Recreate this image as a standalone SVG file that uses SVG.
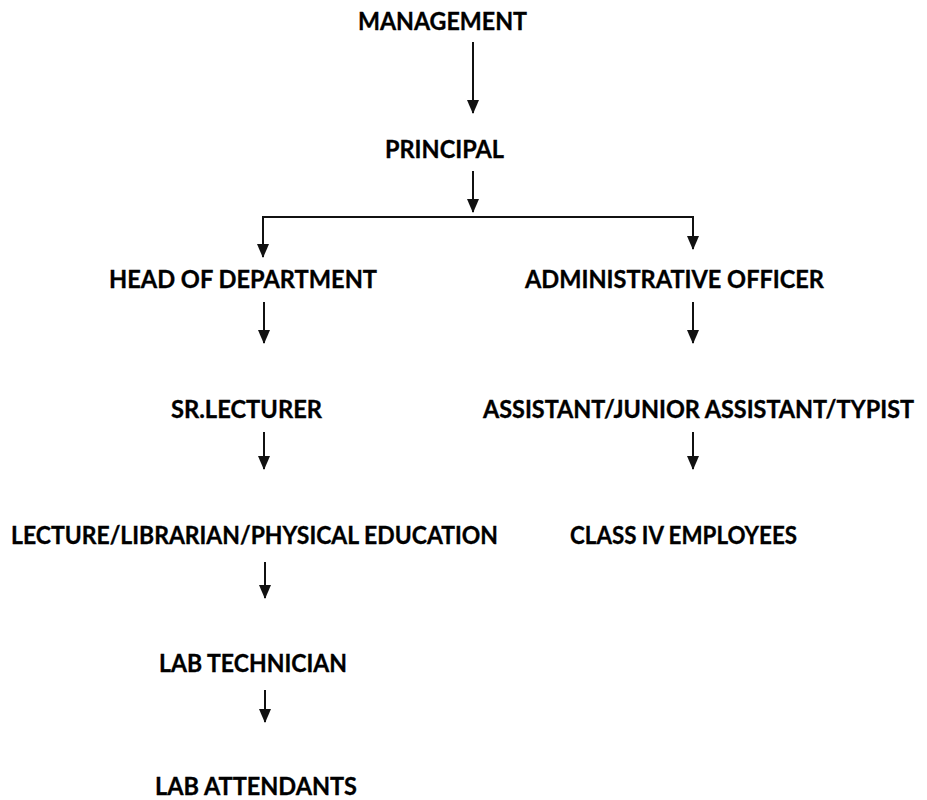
<svg xmlns="http://www.w3.org/2000/svg" width="927" height="800" viewBox="0 0 927 800">
<style>
  text { font-family: "Lato", "Carlito", "Open Sans", sans-serif; font-weight: bold; font-size: 25.5px; fill: #000; stroke: #000; stroke-width: 0.35px; }
  .c { stroke: #111; stroke-width: 2; fill: none; }
</style>
<defs>
  <marker id="ah" markerUnits="userSpaceOnUse" markerWidth="14" markerHeight="14" viewBox="0 0 14 12" refX="13" refY="6" orient="auto">
    <path d="M0,0 L14,6 L0,12 z" fill="#111"/>
  </marker>
</defs>
<rect width="927" height="800" fill="#fff"/>
<g id="connectors">
  <path class="c" d="M473,42 V113" marker-end="url(#ah)"/>
  <path class="c" d="M473,171 V212" marker-end="url(#ah)"/>
  <path class="c" d="M263,257 V217 H693 V249"/>
  <path class="c" d="M263,250 V257" marker-end="url(#ah)"/>
  <path class="c" d="M693,242 V249" marker-end="url(#ah)"/>
  <path class="c" d="M264,302 V343" marker-end="url(#ah)"/>
  <path class="c" d="M693,302 V343" marker-end="url(#ah)"/>
  <path class="c" d="M264,432 V469" marker-end="url(#ah)"/>
  <path class="c" d="M693,432 V469" marker-end="url(#ah)"/>
  <path class="c" d="M265,562 V598" marker-end="url(#ah)"/>
  <path class="c" d="M265,690 V722" marker-end="url(#ah)"/>
</g>
<g id="management"><text x="358" y="30" textLength="169" lengthAdjust="spacingAndGlyphs">MANAGEMENT</text></g>
<g id="principal"><text x="385" y="158" textLength="119" lengthAdjust="spacingAndGlyphs">PRINCIPAL</text></g>
<g id="hod"><text x="109" y="288" textLength="268" lengthAdjust="spacingAndGlyphs">HEAD OF DEPARTMENT</text></g>
<g id="ao"><text x="525" y="288" textLength="299" lengthAdjust="spacingAndGlyphs">ADMINISTRATIVE OFFICER</text></g>
<g id="srlecturer"><text x="171" y="418" textLength="151" lengthAdjust="spacingAndGlyphs">SR.LECTURER</text></g>
<g id="assistant"><text x="483" y="418" font-size="24" style="font-size:24px" textLength="431" lengthAdjust="spacingAndGlyphs">ASSISTANT/JUNIOR ASSISTANT/TYPIST</text></g>
<g id="lecture"><text x="11" y="544" textLength="487" lengthAdjust="spacingAndGlyphs">LECTURE/LIBRARIAN/PHYSICAL EDUCATION</text></g>
<g id="classiv"><text x="570" y="544" textLength="227" lengthAdjust="spacingAndGlyphs">CLASS IV EMPLOYEES</text></g>
<g id="labtech"><text x="159" y="672" textLength="188" lengthAdjust="spacingAndGlyphs">LAB TECHNICIAN</text></g>
<g id="labatt"><text x="155" y="795" textLength="202" lengthAdjust="spacingAndGlyphs">LAB ATTENDANTS</text></g>
</svg>
